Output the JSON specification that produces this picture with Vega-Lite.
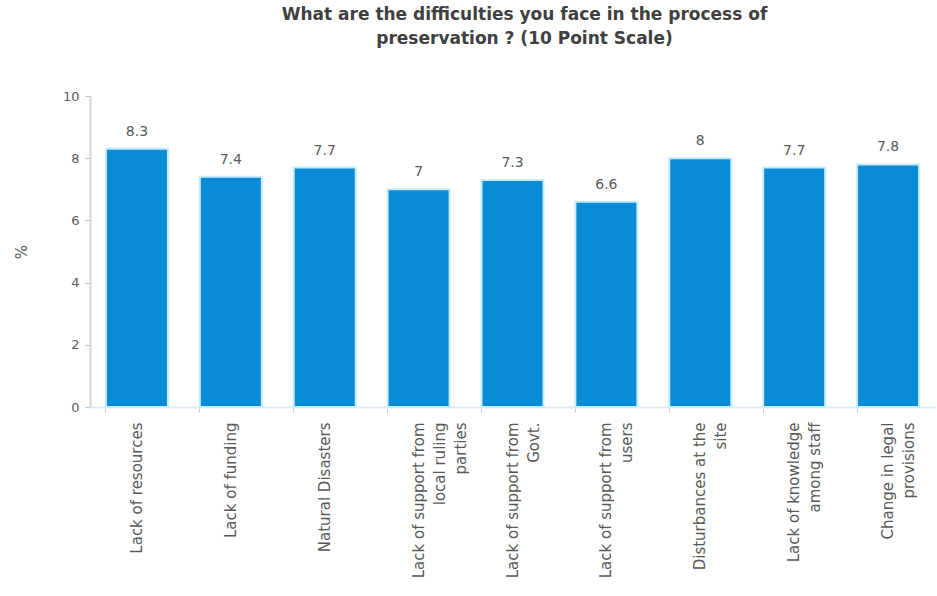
{
  "$schema": "https://vega.github.io/schema/vega-lite/v6.json",
  "width": 845,
  "height": 311,
  "autosize": {"type": "none"},
  "padding": {"left": 90, "top": 96, "right": 2, "bottom": 189},
  "background": "white",
  "title": {
    "text": ["What are the difficulties you face in the process of", "preservation ? (10 Point Scale)"],
    "font": "DejaVu Sans",
    "fontSize": 17,
    "fontWeight": "bold",
    "color": "#404040",
    "lineHeight": 24,
    "anchor": "middle",
    "offset": 42,
    "dx": 12
  },
  "data": {
    "values": [
      {"difficulty": "Lack of resources", "score": 8.3},
      {"difficulty": "Lack of funding", "score": 7.4},
      {"difficulty": "Natural Disasters", "score": 7.7},
      {"difficulty": "Lack of support from|local ruling|parties", "score": 7.0},
      {"difficulty": "Lack of support from|Govt.", "score": 7.3},
      {"difficulty": "Lack of support from|users", "score": 6.6},
      {"difficulty": "Disturbances at the|site", "score": 8.0},
      {"difficulty": "Lack of knowledge|among staff", "score": 7.7},
      {"difficulty": "Change in legal|provisions", "score": 7.8}
    ]
  },
  "encoding": {
    "x": {
      "field": "difficulty",
      "type": "nominal",
      "sort": null,
      "scale": {"paddingInner": 0.34, "paddingOuter": 0.17},
      "axis": {
        "title": null,
        "labelExpr": "split(datum.label, '|')",
        "labelAngle": -90,
        "labelFont": "DejaVu Sans",
        "labelFontSize": 15,
        "labelColor": "#595959",
        "labelLineHeight": 21,
        "labelPadding": 10,
        "labelLimit": 200,
        "bandPosition": 0,
        "ticks": true,
        "tickSize": 5,
        "tickColor": "#d9cba9",
        "domainColor": "#d6eef8",
        "domainWidth": 2,
        "grid": false
      }
    },
    "y": {
      "field": "score",
      "type": "quantitative",
      "scale": {"domain": [0, 10]},
      "axis": {
        "title": "%",
        "titleFont": "DejaVu Sans",
        "titleFontSize": 15,
        "titleFontWeight": "normal",
        "titleColor": "#595959",
        "titlePadding": 33,
        "values": [0, 2, 4, 6, 8, 10],
        "labelFont": "DejaVu Sans",
        "labelFontSize": 13,
        "labelColor": "#595959",
        "labelPadding": 6,
        "tickColor": "#bfbfbf",
        "tickSize": 5,
        "domainColor": "#cfd6dc",
        "domainWidth": 2,
        "grid": false
      }
    }
  },
  "layer": [
    {
      "mark": {"type": "bar", "color": "#0a8bd6", "stroke": "#c6ecfb", "strokeWidth": 2}
    },
    {
      "mark": {
        "type": "text",
        "dy": -17,
        "font": "DejaVu Sans",
        "fontSize": 14,
        "color": "#595959"
      },
      "encoding": {"text": {"field": "score", "type": "quantitative"}}
    }
  ],
  "config": {"view": {"stroke": null}}
}
